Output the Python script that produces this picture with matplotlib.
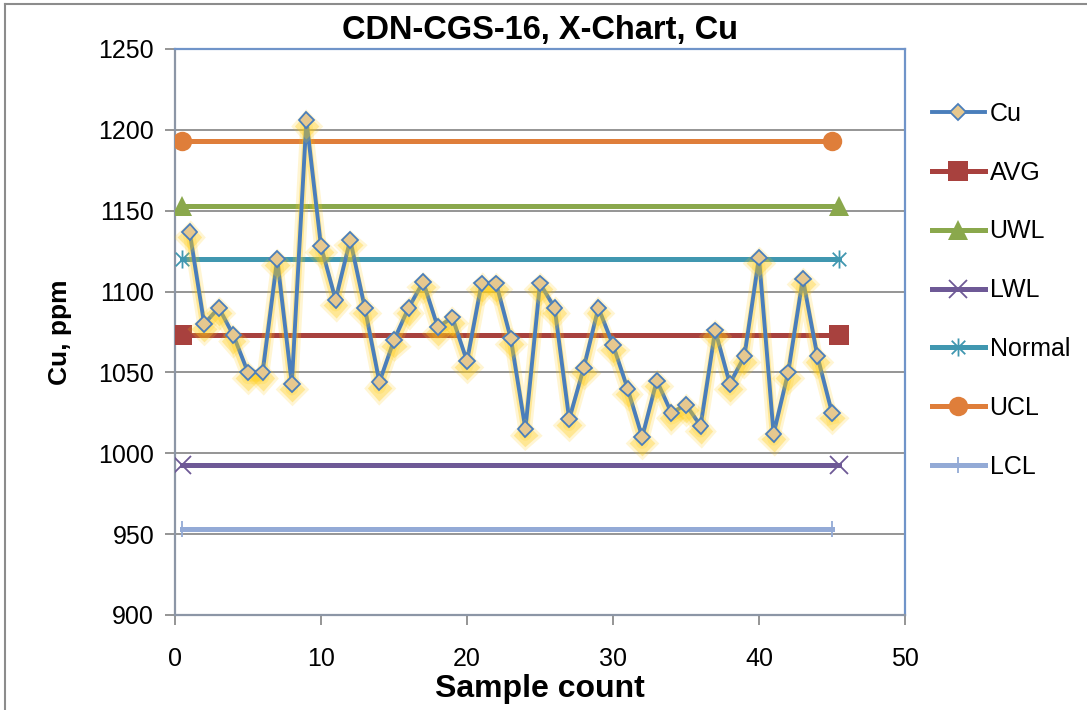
import matplotlib
matplotlib.use('Agg')
import matplotlib.pyplot as plt
import matplotlib.patheffects as pe
from matplotlib.path import Path
from matplotlib.lines import Line2D
import numpy as np

plt.rcParams['font.family'] = ['Liberation Sans', 'DejaVu Sans']

# Cu results, sample 1..45
samples = np.arange(1, 46)
cu = [1137, 1080, 1090, 1073, 1050, 1050, 1120, 1043, 1206, 1128,
      1095, 1132, 1090, 1044, 1070, 1090, 1106, 1078, 1084, 1057,
      1105, 1105, 1071, 1015, 1105, 1090, 1021, 1053, 1090, 1067,
      1040, 1010, 1045, 1025, 1030, 1017, 1076, 1043, 1060, 1121,
      1012, 1050, 1108, 1060, 1025]

# control lines: (name, value, x start, x end)
limit_names = ['AVG', 'UWL', 'LWL', 'Normal', 'UCL', 'LCL']
limit_values = [1073, 1153, 993, 1120, 1193, 953]
limit_x0 = [0.5, 0.5, 0.5, 0.5, 0.5, 0.5]
limit_x1 = [45.5, 45.5, 45.5, 45.5, 45.0, 45.0]

# Excel style asterisk: vertical bar plus an x
star_path = Path([(0, -1), (0, 1), (-0.75, -0.75), (0.75, 0.75), (-0.75, 0.75), (0.75, -0.75)],
                 [Path.MOVETO, Path.LINETO, Path.MOVETO, Path.LINETO, Path.MOVETO, Path.LINETO])

styles = {
    'AVG':    dict(color='#A8413E', marker='s', ms=14, mew=0),
    'UWL':    dict(color='#8AA84C', marker='^', ms=15, mew=0),
    'LWL':    dict(color='#6E5996', marker='x', ms=13, mew=1.3),
    'Normal': dict(color='#4097B0', marker=star_path, ms=13, mew=1.3),
    'UCL':    dict(color='#DF7E3A', marker='o', ms=14, mew=0),
    'LCL':    dict(color='#93AAD6', marker='|', ms=12, mew=1.3),
}

fig = plt.figure(figsize=(10.87, 7.10), dpi=100)
ax = fig.add_axes([175 / 1087, 1 - 615 / 710, 730 / 1087, 566 / 710])

cu_style = dict(color='#4A7EBB', lw=2.8, marker='D', ms=8,
                mfc='#E6C88F', mec='#4A7EBB', mew=1.3)
# soft yellow glow under the Cu series
glow = [pe.SimpleLineShadow(offset=(0, -4), shadow_color='#FFCC10', alpha=0.18, linewidth=9),
        pe.SimpleLineShadow(offset=(0, -4), shadow_color='#FFCC10', alpha=0.32, linewidth=5),
        pe.Normal()]
ax.plot(samples, cu, zorder=5, path_effects=glow, **cu_style)
handles = [Line2D([], [], **cu_style)]
labels = ['Cu']

for name, val, x0, x1 in zip(limit_names, limit_values, limit_x0, limit_x1):
    st = styles[name]
    ln, = ax.plot([x0, x1], [val, val], color=st['color'], lw=3.6, marker=st['marker'],
                  ms=st['ms'], mew=st['mew'], mec=st['color'], mfc=st['color'],
                  zorder=4)
    handles.append(ln)
    labels.append(name)

ax.set_xlim(0, 50)
ax.set_ylim(900, 1250)
ax.set_xticks(np.arange(0, 51, 10))
ax.set_yticks(np.arange(900, 1251, 50))
ax.yaxis.grid(True, color='#8C8C8C', lw=1.3)
ax.set_axisbelow(True)
for side in ['top', 'right']:
    ax.spines[side].set_color('#7094C9')
    ax.spines[side].set_linewidth(1.6)
for side in ['left', 'bottom']:
    ax.spines[side].set_color('#8C96A6')
    ax.spines[side].set_linewidth(1.6)
ax.tick_params(direction='out', length=7, width=1.3, color='#8C8C8C', labelsize=18)
ax.tick_params(axis='y', pad=8)
ax.tick_params(axis='x', pad=16)

ax.set_title('CDN-CGS-16, X-Chart, Cu', fontsize=23.5, fontweight='bold', pad=7)
ax.set_xlabel('Sample count', fontsize=23, fontweight='bold', labelpad=2)
ax.set_ylabel('Cu, ppm', fontsize=19, fontweight='bold', labelpad=19)

ax.legend(handles, labels, loc='upper left', bbox_to_anchor=(932 / 1087, 1 - 102 / 710),
          bbox_transform=fig.transFigure, frameon=False, fontsize=18,
          numpoints=1, handlelength=2.1, handletextpad=0.2, labelspacing=1.39,
          borderaxespad=0, borderpad=0)

# outer chart border (top and left only visible)
fig.add_artist(Line2D([5 / 1087, 1], [1 - 4 / 710, 1 - 4 / 710], color='#8C8C8C', lw=1.5,
                      transform=fig.transFigure))
fig.add_artist(Line2D([5 / 1087, 5 / 1087], [0, 1 - 4 / 710], color='#8C8C8C', lw=1.5,
                      transform=fig.transFigure))

fig.savefig('out.png', dpi=100)
